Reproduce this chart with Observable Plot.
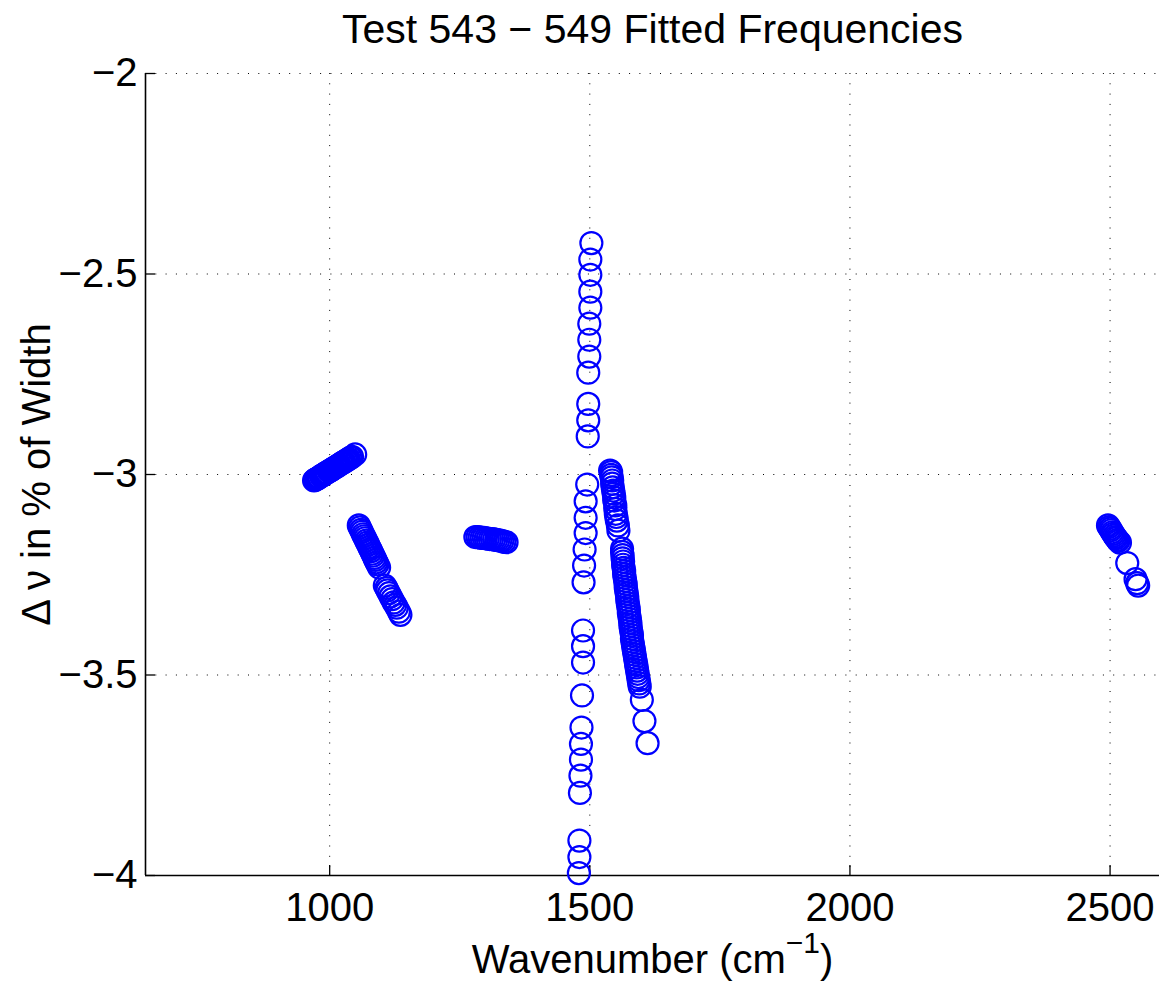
<!DOCTYPE html>
<html>
<head>
<meta charset="utf-8">
<script src="https://cdn.jsdelivr.net/npm/d3@7"></script>
<script src="https://cdn.jsdelivr.net/npm/@observablehq/plot@0.6"></script>
<style>
  html, body { margin: 0; padding: 0; background: #fff; overflow: hidden; }
  #chart svg { display: block; }
</style>
</head>
<body>
<div id="chart"></div>
<script>
// ---- Data ----
// Cluster near 970-1050 cm^-1
const xA = [970, 972, 974, 976, 978, 980, 983, 985, 987, 989, 991, 993, 995, 998, 1000, 1002, 1004, 1006, 1008,
            1011, 1013, 1015, 1017, 1019, 1022, 1024, 1026, 1028, 1031, 1033, 1035, 1037, 1040, 1043, 1049];
const yA = [-3.015, -3.013, -3.012, -3.010, -3.009, -3.007, -3.004, -3.003, -3.001, -3.000, -2.998, -2.996, -2.995, -2.992, -2.991, -2.989, -2.988, -2.986, -2.984,
            -2.982, -2.980, -2.979, -2.977, -2.975, -2.973, -2.971, -2.970, -2.968, -2.966, -2.964, -2.962, -2.961, -2.958, -2.956, -2.950];
// Cluster near 1056-1095
const xB = [1056, 1058, 1060, 1062, 1064, 1066, 1068, 1070, 1072, 1074, 1076, 1078, 1080, 1082, 1084, 1086, 1088, 1090, 1092, 1095];
const yB = [-3.127, -3.132, -3.138, -3.143, -3.149, -3.154, -3.159, -3.165, -3.170, -3.175, -3.181, -3.186, -3.191, -3.197, -3.202, -3.208, -3.213, -3.219, -3.224, -3.232];
// Cluster near 1106-1136
const xC = [1106, 1109, 1111, 1114, 1117, 1120, 1123, 1126, 1129, 1133, 1136];
const yC = [-3.277, -3.283, -3.289, -3.296, -3.304, -3.311, -3.319, -3.325, -3.332, -3.342, -3.350];
// Cluster near 1280-1340
const xD = [1280, 1284, 1288, 1292, 1296, 1300, 1304, 1308, 1312, 1316, 1320, 1324, 1328, 1332, 1336, 1340];
const yD = [-3.156, -3.156, -3.157, -3.158, -3.158, -3.159, -3.160, -3.161, -3.161, -3.162, -3.163, -3.164, -3.165, -3.166, -3.168, -3.169];
// Near-vertical column near 1480-1503
const xE = [1503, 1501, 1501, 1501, 1501, 1499, 1499, 1499, 1497, 1497, 1497, 1496,
            1495, 1492, 1492, 1492, 1490, 1489, 1488, 1487, 1487, 1487,
            1485, 1484, 1483, 1483, 1482, 1481, 1480, 1480, 1479];
const yE = [-2.423, -2.464, -2.502, -2.544, -2.584, -2.624, -2.664, -2.706, -2.746, -2.824, -2.865, -2.905,
            -3.025, -3.067, -3.108, -3.146, -3.187, -3.227, -3.269, -3.389, -3.428, -3.469,
            -3.551, -3.631, -3.672, -3.711, -3.751, -3.794, -3.913, -3.954, -3.994];
// Slanted strand near 1540-1611
const xF = [1539, 1541, 1541, 1542, 1543, 1543, 1544, 1545, 1546, 1547, 1547, 1549, 1549, 1550, 1551, 1552, 1554, 1555,
            1562, 1562, 1563, 1563, 1564, 1564, 1565, 1566, 1566, 1567, 1568, 1569, 1569, 1570, 1571, 1572, 1572, 1573,
            1574, 1575, 1575, 1576, 1577, 1578, 1578, 1579, 1580, 1581, 1581, 1582, 1583, 1584, 1585, 1586, 1587, 1588,
            1589, 1590, 1591, 1592, 1593, 1594, 1595, 1596, 1600, 1605, 1611];
const yF = [-2.990, -2.994, -3.001, -3.007, -3.015, -3.023, -3.032, -3.040, -3.048, -3.057, -3.065, -3.077, -3.086, -3.098, -3.106, -3.115, -3.127, -3.140,
            -3.185, -3.193, -3.201, -3.209, -3.217, -3.225, -3.233, -3.241, -3.249, -3.257, -3.265, -3.273, -3.281, -3.289, -3.297, -3.305, -3.313, -3.321,
            -3.329, -3.337, -3.345, -3.353, -3.361, -3.369, -3.377, -3.385, -3.393, -3.401, -3.409, -3.417, -3.425, -3.433, -3.441, -3.449, -3.457, -3.465,
            -3.473, -3.481, -3.489, -3.497, -3.505, -3.513, -3.521, -3.529, -3.562, -3.615, -3.670];
// Cluster near 2496-2554
const xG = [2496, 2498, 2500, 2502, 2504, 2506, 2508, 2510, 2512, 2514, 2516, 2519, 2533, 2549, 2552, 2554];
const yG = [-3.127, -3.131, -3.135, -3.139, -3.144, -3.148, -3.152, -3.156, -3.159, -3.163, -3.166, -3.170, -3.221, -3.261, -3.271, -3.277];

const xTicks = [1000, 1500, 2000, 2500];
const yTicks = [-4, -3.5, -3, -2.5, -2];
const xDomain = [646, 2595];
const yDomain = [-4, -2];

const titleText = "Test 543 \u2212 549 Fitted Frequencies";
const xLabelText = "Wavenumber (cm\u22121)";
const yLabelText = "\u0394 \u03bd in % of Width";

// ---- Build table ----
const points = [];
[[xA, yA], [xB, yB], [xC, yC], [xD, yD], [xE, yE], [xF, yF], [xG, yG]].forEach(([xs, ys]) => {
  xs.forEach((x, i) => points.push({ wavenumber: x, shift: ys[i] }));
});

const W = 1159, H = 982;
const mL = 145, mR = 0, mT = 73, mB = 107;
const xPerPx = (xDomain[1] - xDomain[0]) / (W - mL - mR);
const yPerPx = (yDomain[1] - yDomain[0]) / (H - mT - mB);
const tickLen = 10;
const fmtY = d => (d < 0 ? "\u2212" : "") + Math.abs(d);
const dotted = { stroke: "black", strokeOpacity: 1, strokeWidth: 1, strokeDasharray: "1,9.3" };
const font = "'Liberation Sans', Arial, Helvetica, sans-serif";

const chart = Plot.plot({
  width: W,
  height: H,
  marginLeft: mL,
  marginRight: mR,
  marginTop: mT,
  marginBottom: mB,
  style: { fontFamily: font, fontSize: "40px", color: "black", background: "white", overflow: "visible" },
  x: { domain: xDomain, label: null },
  y: { domain: yDomain, label: null },
  marks: [
    Plot.gridX(xTicks, dotted),
    Plot.gridY(yTicks, dotted),
    Plot.ruleX([xDomain[0]], { stroke: "black", strokeWidth: 1.6 }),
    Plot.ruleY([yDomain[0]], { stroke: "black", strokeWidth: 1.6 }),
    Plot.ruleX(xTicks, { y1: yDomain[0], y2: yDomain[0] + tickLen * yPerPx, stroke: "black", strokeWidth: 1.3 }),
    Plot.ruleY(yTicks, { x1: xDomain[0], x2: xDomain[0] + tickLen * xPerPx, stroke: "black", strokeWidth: 1.3 }),
    Plot.axisX(xTicks, { tickSize: 0, tickPadding: 17, fontSize: 40, tickFormat: d => String(d), label: null }),
    Plot.axisY(yTicks, { tickSize: 0, tickPadding: 8, fontSize: 40, tickFormat: fmtY, label: null }),
    Plot.dot(points, { x: "wavenumber", y: "shift", r: 11, stroke: "#0000ff", strokeWidth: 2.2, fill: "none" }),
    Plot.text([titleText], { text: d => d, frameAnchor: "top", dy: -31, lineAnchor: "bottom", fontSize: 41, fill: "black" }),
    Plot.text([xLabelText], { text: d => d, frameAnchor: "bottom", dy: 97, lineAnchor: "bottom", fontSize: 40, fill: "black" }),
    Plot.text([yLabelText], { text: d => d, frameAnchor: "left", dx: -96, rotate: -90, textAnchor: "middle", lineAnchor: "bottom", fontSize: 40, fill: "black" })
  ]
});

document.getElementById("chart").appendChild(chart);

// Superscript for the x label
d3.select(chart).selectAll("text").each(function () {
  if (this.textContent === xLabelText) {
    const t = d3.select(this);
    t.text(null);
    t.append("tspan").text("Wavenumber (cm");
    t.append("tspan").attr("dy", "-20").attr("font-size", "30px").text("\u22121");
    t.append("tspan").attr("dy", "20").text(")");
  }
});
</script>
</body>
</html>
